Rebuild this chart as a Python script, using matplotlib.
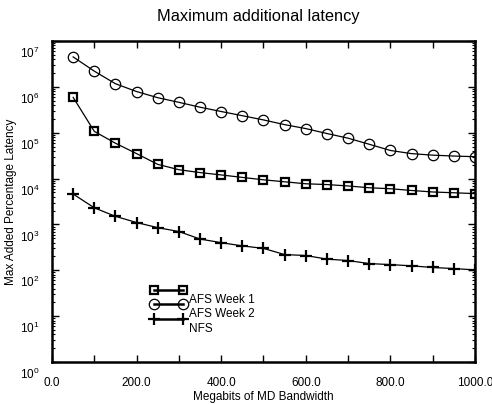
import matplotlib
matplotlib.use("Agg")
import matplotlib.pyplot as plt
import matplotlib.transforms as mtransforms
from matplotlib.lines import Line2D
from matplotlib.ticker import MultipleLocator, FixedLocator, FormatStrFormatter, NullFormatter, LogFormatterSciNotation
import numpy as np

plt.rcParams['font.family'] = ['Liberation Sans', 'DejaVu Sans']
plt.rcParams['mathtext.fontset'] = 'custom'
plt.rcParams['mathtext.rm'] = 'Liberation Sans'

bandwidth = [50, 100, 150, 200, 250, 300, 350, 400, 450, 500,
             550, 600, 650, 700, 750, 800, 850, 900, 950, 1000]
afs_week1 = [5.9e5, 1.07e5, 5.9e4, 3.5e4, 2.04e4, 1.56e4, 1.35e4, 1.2e4, 1.06e4, 9.4e3,
             8.5e3, 7.7e3, 7.4e3, 6.9e3, 6.3e3, 6.0e3, 5.5e3, 5.1e3, 4.9e3, 4.7e3]
afs_week2 = [4.5e6, 2.2e6, 1.17e6, 7.9e5, 5.8e5, 4.6e5, 3.6e5, 2.9e5, 2.35e5, 1.9e5,
             1.5e5, 1.23e5, 9.6e4, 7.6e4, 5.6e4, 4.1e4, 3.5e4, 3.24e4, 3.1e4, 3.0e4]
nfs = [4.6e3, 2.3e3, 1.5e3, 1.1e3, 8.5e2, 7.0e2, 4.8e2, 4.0e2, 3.4e2, 3.0e2,
       2.2e2, 2.1e2, 1.75e2, 1.63e2, 1.4e2, 1.33e2, 1.25e2, 1.15e2, 1.09e2, 1.02e2]
labels = ['AFS Week 1', 'AFS Week 2', 'NFS']
decades = [10.0 ** k for k in range(0, 8)]

fig = plt.figure(figsize=(4.92, 4.04), dpi=100)
ax = fig.add_axes([0.1057, 0.104, 0.8597, 0.7945])

ax.plot(bandwidth, afs_week2, color='black', lw=0.9, marker='o', ms=7.5,
        mfc='none', mec='black', mew=0.9)
ax.plot(bandwidth, afs_week1, color='black', lw=0.9, marker='s', ms=6,
        mfc='none', mec='black', mew=1.6)
ax.plot(bandwidth, nfs, color='black', lw=0.9, marker='+', ms=8, mew=1.6)

ax.set_yscale('log')
ax.set_xlim(0, 1000)
ax.set_ylim(1, 1e7)
ax.xaxis.set_major_locator(MultipleLocator(100))
ax.xaxis.set_major_formatter(FormatStrFormatter('%.1f'))
ax.yaxis.set_major_locator(FixedLocator(decades))
ax.yaxis.set_major_formatter(LogFormatterSciNotation())
minors = [d * s for d in decades[:-1] for s in range(2, 10)]
ax.yaxis.set_minor_locator(FixedLocator(minors))
ax.yaxis.set_minor_formatter(NullFormatter())

ax.tick_params(which='both', direction='in', top=True, right=True,
               labelsize=8.5, colors='black')
ax.tick_params(which='major', length=5, width=1)
ax.tick_params(which='minor', length=2.5, width=0.8)
ax.tick_params(axis='x', pad=11)
ax.tick_params(axis='y', pad=9)
for sp in ax.spines.values():
    sp.set_linewidth(1.8)

# only every other x tick is labelled
fig.canvas.draw()
for t, lab in zip(ax.get_xticks(), ax.get_xticklabels()):
    if int(round(t)) % 200 != 0:
        lab.set_visible(False)

# y tick labels sit a little below their ticks in the original
shift = mtransforms.ScaledTranslation(0, -11 / 100, fig.dpi_scale_trans)
for lab in ax.get_yticklabels():
    lab.set_transform(lab.get_transform() + shift)

ax.set_xlabel('Megabits of MD Bandwidth', fontsize=8.5, labelpad=1)
ax.set_ylabel('Max Added Percentage Latency', fontsize=8.5, labelpad=2)
fig.text(258 / 492, 1 - 16.5 / 404, 'Maximum additional latency', fontsize=11.8,
         ha='center', va='center')

# hand-drawn legend
styles = [dict(marker='s', ms=6, mfc='none', mew=1.6),
          dict(marker='o', ms=7.5, mfc='none', mew=0.9),
          dict(marker='+', ms=8, mew=1.6)]
x0, x1 = 0.24, 0.31
for i, (lab, st) in enumerate(zip(labels, styles)):
    y = 0.225 - i * 0.045
    ax.add_line(Line2D([x0, x1], [y, y], transform=ax.transAxes, color='black',
                       lw=1.8, mec='black', **st))
    ax.text(x1 + 0.015, y - 0.031, lab, transform=ax.transAxes, fontsize=8.5,
            va='center', ha='left')

fig.savefig('out.png', dpi=100)
